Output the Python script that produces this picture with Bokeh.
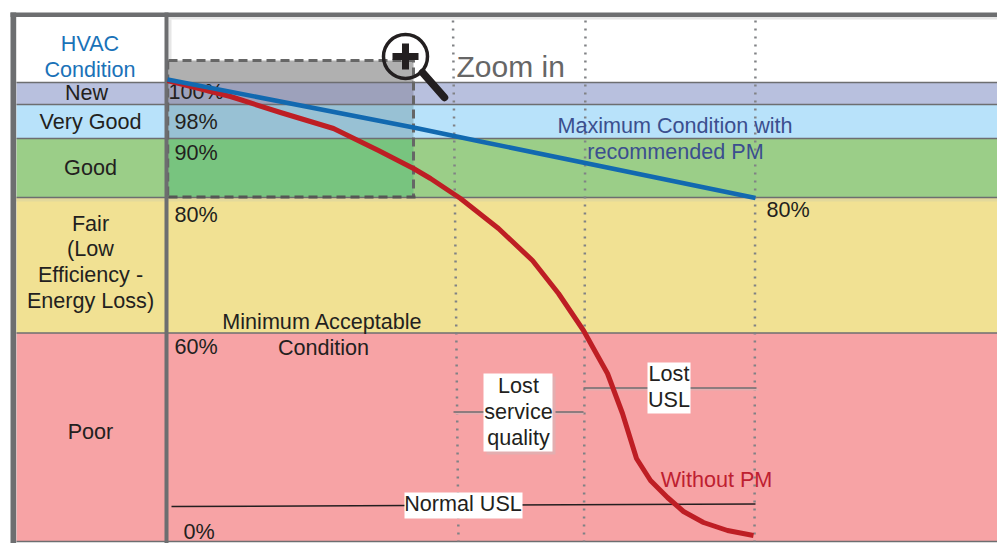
from bokeh.plotting import figure
from bokeh.embed import file_html
from bokeh.resources import INLINE
from bokeh.core.properties import value

# Plot coordinates: the schematic has no numeric axes.
band_names = ["New", "Very Good", "Good", "Fair", "Poor"]
band_top = [82, 104, 138, 197, 332.5]
band_bottom = [104, 138, 197, 332.5, 541]
band_colors = ["#b8c0de", "#b8e2fa", "#9bce88", "#f1e193", "#f7a3a5"]
zoom_colors = ["#9da1bb", "#98c1d4", "#78c47f"]

max_x = [167, 413, 480, 755]
max_y = [79, 127, 141, 197.5]
nopm_x = [167, 230, 280, 333, 378, 413, 430, 460, 498, 532, 558, 583, 593, 607, 622, 636, 650, 667, 683, 703, 727, 753]
nopm_y = [80, 96, 112, 128, 150, 168, 178, 198, 228, 260, 293, 330, 348, 373, 413, 458, 480, 497, 511, 522, 530, 535]

milestones_top_x = [452.5, 585, 755]
milestones_bot_x = [458, 583.5, 754]

FONT = "Liberation Sans"
DARK = "#231f20"
GREY = "#6d6e70"

p = figure(width=997, height=543, x_range=(0, 997), y_range=(543, 0),
           toolbar_location=None, output_backend="svg", min_border=0,
           background_fill_color="white", border_fill_color="white")
p.axis.visible = False
p.grid.visible = False
p.outline_line_color = None
p.styles = {"position": "absolute", "left": "0px", "top": "0px"}


def txt(x, y, s, color=DARK, size=21.6, align="center", baseline="middle"):
    p.text([x], [y], text=[s], text_color=color, text_font=value(FONT),
           text_font_size=f"{size}px", text_align=align, text_baseline=baseline)


# bands
p.quad(left=16, right=997, top=band_top, bottom=band_bottom, fill_color=band_colors, line_color=None)

# zoom box tint
p.quad(left=168, right=413, top=60, bottom=82, fill_color="#b0b0b0", line_color=None)
p.quad(left=168, right=413, top=band_top[:3], bottom=band_bottom[:3], fill_color=zoom_colors, line_color=None)

# soft shadows below rules
p.quad(left=16, right=997, top=197.5, bottom=201, fill_color="#e3d99b", line_color=None)
p.quad(left=168, right=997, top=16.5, bottom=19, fill_color="#e6e6e6", line_color=None)
p.quad(left=168, right=171, top=19, bottom=60, fill_color="#e6e6e6", line_color=None)

# band separators
for y in band_top + [541]:
    p.line([16, 997], [y, y], line_color=GREY, line_width=1.5)

# milestone dotted lines
for xa, xb in zip(milestones_top_x, milestones_bot_x):
    p.line([xa, xb], [20, 541], line_color="#808285", line_width=2.5, line_dash="2 6")

# frame
p.quad(left=10, right=997, top=12, bottom=16.5, fill_color=GREY, line_color=None)
p.quad(left=10, right=15.7, top=12, bottom=543, fill_color=GREY, line_color=None)
p.quad(left=164, right=168, top=12, bottom=543, fill_color=GREY, line_color=None)

# zoom box border
p.line([168, 413, 413], [60, 60, 197], line_color="#666666", line_width=3, line_dash="9 5")
p.line([168, 168], [60, 197], line_color="#666666", line_width=1.5, line_dash="9 5")
p.line([168, 418], [196.5, 196.5], line_color="#555555", line_width=3, line_dash="9 5")

# magnifier
p.line([422, 444], [72, 97], line_color="#231f20", line_width=7.5, line_cap="round")
p.circle([405], [56], radius=22, radius_units="screen", fill_color=None, line_color="#231f20", line_width=3.5)
p.line([392, 418], [56, 56], line_color="#231f20", line_width=7)
p.line([405, 405], [43, 69], line_color="#231f20", line_width=7)
txt(456, 65.5, "Zoom in", color="#666666", size=30, align="left")

# left table labels
txt(89.5, 43, "HVAC", color="#1a72b8")
txt(89.5, 69, "Condition", color="#1a72b8")
txt(86, 92, "New")
txt(90, 121, "Very Good")
txt(90, 167, "Good")
txt(90, 223, "Fair")
txt(90, 248, "(Low")
txt(90, 274, "Efficiency -")
txt(90, 300, "Energy Loss)")
txt(90, 431, "Poor")

# percent labels
txt(168, 91, "100%", align="left")
txt(174, 121, "98%", align="left")
txt(174, 152, "90%", align="left")
txt(174, 214, "80%", align="left")
txt(174, 346, "60%", align="left")
txt(183, 531, "0%", align="left")
txt(766, 209, "80%", align="left")

txt(322, 321, "Minimum Acceptable")
txt(323, 347, "Condition")
txt(674.5, 125, "Maximum Condition with", color="#3b4f8f")
txt(675, 151, "recommended PM", color="#3b4f8f")

# leader lines
p.line([171, 755], [506, 503.5], line_color="#231f20", line_width=1.5)
p.line([455, 583], [413, 413], line_color="#e3aeb0", line_width=2)
p.line([585, 758], [389, 389], line_color="#e3aeb0", line_width=2)
p.line([453, 583], [411.5, 411.5], line_color=GREY, line_width=1.5)
p.line([583, 756], [387.5, 387.5], line_color=GREY, line_width=1.5)

# curves
p.line(nopm_x, nopm_y, line_color="#be1e24", line_width=5, line_join="round")
p.line(max_x, max_y, line_color="#1269b0", line_width=4.5, line_join="round")

# callouts
p.quad(left=486, right=555, top=376, bottom=454, fill_color="#e3aeb0", line_color=None)
p.quad(left=483, right=552, top=373, bottom=451, fill_color="white", line_color=None)
p.quad(left=647, right=690, top=362, bottom=413, fill_color="white", line_color=None)
p.quad(left=404, right=522, top=492, bottom=518, fill_color="white", line_color=None)
txt(518, 385, "Lost")
txt(518, 411, "service")
txt(518, 437, "quality")
txt(668.5, 373, "Lost")
txt(668.5, 398.5, "USL")
txt(462.5, 503, "Normal USL")
txt(716, 479, "Without PM", color="#be2030")

open("out.html", "w").write(file_html(p, INLINE))
